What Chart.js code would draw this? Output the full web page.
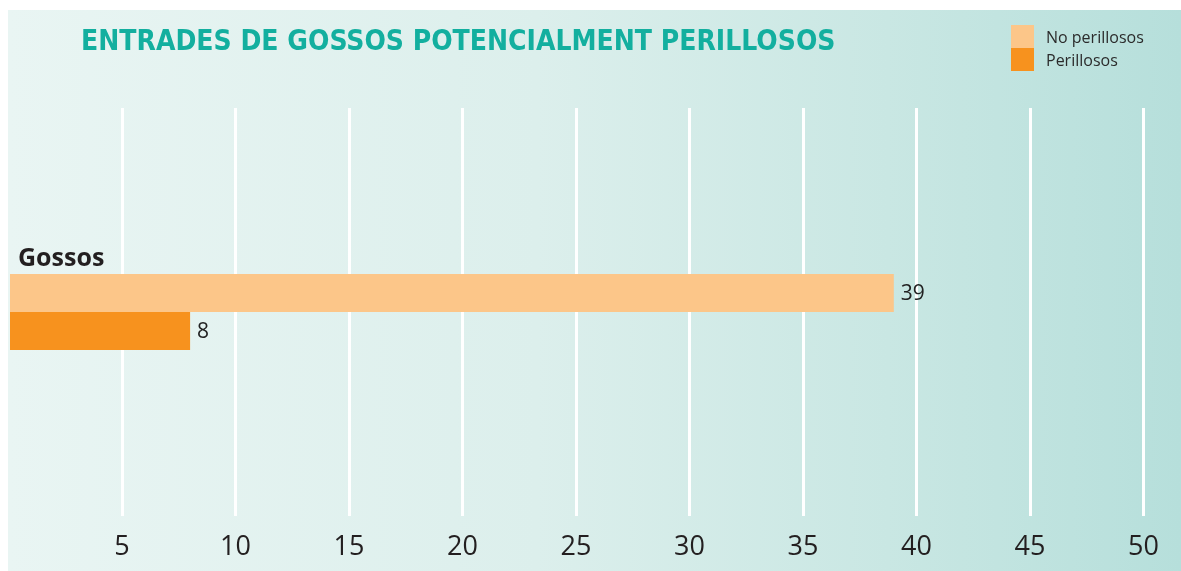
<!DOCTYPE html>
<html>
<head>
<meta charset="utf-8">
<script src="https://cdn.jsdelivr.net/npm/chart.js@4/dist/chart.umd.min.js"></script>
<style>
  html, body { margin: 0; padding: 0; background: #fff; }
  #wrap { position: relative; width: 1181px; height: 571px; overflow: hidden; }
  #panel {
    position: absolute; left: 8px; top: 10px; width: 1173px; height: 561px;
    background: linear-gradient(to right, #e9f5f3 0%, #dcefec 45%, #c9e7e3 75%, #b6dfdb 100%);
  }
  #chart { position: absolute; left: 0; top: 0; }
  #title {
    position: absolute; left: 81px; top: 24px;
    font-family: "DejaVu Sans Condensed", "DejaVu Sans", sans-serif;
    font-weight: bold; font-size: 28px; color: #13af9f; white-space: nowrap;
  }
  #legend { position: absolute; left: 1011px; top: 25px; font-family: "Open Sans", sans-serif; font-size: 16px; color: #2b2b2b; }
  #legend div { height: 23px; display: flex; align-items: center; }
  #legend span.box { width: 23px; height: 23px; margin-right: 12px; display: inline-block; }
</style>
</head>
<body>
<div id="wrap">
  <div id="panel"></div>
  <canvas id="chart" width="1181" height="571"></canvas>
  <div id="title"></div>
  <div id="legend"></div>
</div>
<script>
const titol = "ENTRADES DE GOSSOS POTENCIALMENT PERILLOSOS";
const categories = ["Gossos"];
const seriesNames = ["No perillosos", "Perillosos"];
const noPerillosos = [39];
const perillosos = [8];
const colors = ["#fcc689", "#f7921e"];
const xTicks = [5, 10, 15, 20, 25, 30, 35, 40, 45, 50];

document.getElementById("title").textContent = titol;
const legend = document.getElementById("legend");
seriesNames.forEach((n, i) => {
  const row = document.createElement("div");
  row.innerHTML = '<span class="box" style="background:' + colors[i] + '"></span>' + n;
  legend.appendChild(row);
});

const valueLabels = {
  id: "valueLabels",
  afterDatasetsDraw(chart) {
    const ctx = chart.ctx;
    ctx.save();
    ctx.fillStyle = "#222";
    ctx.font = "21px 'Open Sans', sans-serif";
    ctx.textBaseline = "middle";
    chart.data.datasets.forEach((ds, i) => {
      chart.getDatasetMeta(i).data.forEach((bar, j) => {
        ctx.fillText(ds.data[j], bar.x + 7, bar.y + 1);
      });
    });
    // category label above the bars
    const first = chart.getDatasetMeta(0).data;
    ctx.font = "bold 25px 'Open Sans', sans-serif";
    ctx.fillStyle = "#231f20";
    ctx.textBaseline = "alphabetic";
    first.forEach((bar, j) => {
      ctx.fillText(chart.data.labels[j], 18, bar.y - bar.height / 2 - 8);
    });
    ctx.restore();
  }
};

new Chart(document.getElementById("chart"), {
  type: "bar",
  data: {
    labels: categories,
    datasets: [
      { label: seriesNames[0], data: noPerillosos, backgroundColor: colors[0] },
      { label: seriesNames[1], data: perillosos, backgroundColor: colors[1] }
    ]
  },
  options: {
    indexAxis: "y",
    responsive: false,
    animation: false,
    layout: { padding: { left: 8.5, right: 37.5, top: 108, bottom: 0 } },
    categoryPercentage: 0.186,
    barPercentage: 1,
    plugins: { legend: { display: false }, title: { display: false }, tooltip: { enabled: false } },
    scales: {
      y: { display: false },
      x: {
        min: 0, max: 50,
        afterFit(scale) {
          scale.height = 55;
          scale.paddingLeft = 0;
          scale.paddingRight = 0;
        },
        afterBuildTicks(scale) { scale.ticks = [0].concat(xTicks).map(v => ({ value: v })); },
        border: { display: false },
        grid: {
          drawTicks: false,
          lineWidth: 3,
          color: c => c.tick && c.tick.value === 0 ? "rgba(0,0,0,0)" : "#ffffff"
        },
        ticks: {
          padding: 15,
          color: "#231f20",
          font: { family: "'Open Sans', sans-serif", size: 27 },
          callback: v => v === 0 ? "" : v
        }
      }
    }
  },
  plugins: [valueLabels]
});
</script>
</body>
</html>
